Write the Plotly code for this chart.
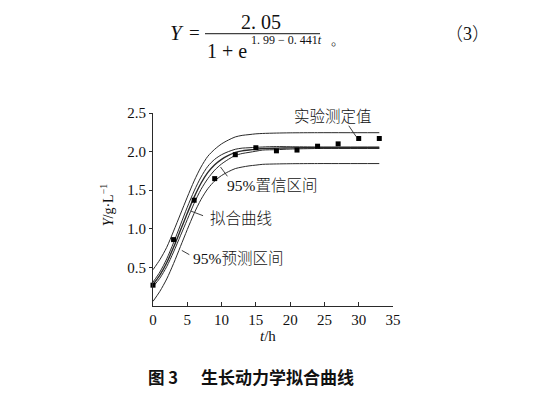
import plotly.graph_objects as go

# ---- data ----
t_curve = [0, 1, 2, 3, 4, 5, 6, 7, 8, 9, 10, 11, 12, 13, 14, 15, 16, 18, 20, 24, 28, 33]
fit_curve = [0.28, 0.40, 0.56, 0.76, 0.98, 1.20, 1.41, 1.59, 1.73, 1.83, 1.90, 1.95, 1.99,
             2.01, 2.02, 2.03, 2.04, 2.045, 2.048, 2.05, 2.05, 2.05]
conf_upper = [0.31, 0.44, 0.61, 0.82, 1.05, 1.28, 1.49, 1.67, 1.81, 1.90, 1.96, 2.00, 2.03,
              2.045, 2.05, 2.055, 2.06, 2.065, 2.063, 2.06, 2.06, 2.06]
conf_lower = [0.25, 0.36, 0.51, 0.70, 0.91, 1.12, 1.33, 1.51, 1.65, 1.76, 1.84, 1.90, 1.95,
              1.975, 1.99, 2.005, 2.02, 2.025, 2.033, 2.04, 2.04, 2.04]
pred_upper = [0.47, 0.60, 0.76, 0.97, 1.19, 1.41, 1.62, 1.80, 1.94, 2.03, 2.10, 2.15, 2.19,
              2.21, 2.22, 2.23, 2.235, 2.24, 2.243, 2.245, 2.245, 2.245]
pred_lower = [0.06, 0.19, 0.35, 0.55, 0.77, 0.99, 1.20, 1.38, 1.52, 1.62, 1.69, 1.74, 1.78,
              1.80, 1.815, 1.825, 1.835, 1.84, 1.843, 1.845, 1.845, 1.845]

t_obs = [0, 3, 6, 9, 12, 15, 18, 21, 24, 27, 30, 33]
y_obs = [0.27, 0.86, 1.37, 1.65, 1.96, 2.05, 2.01, 2.02, 2.07, 2.10, 2.17, 2.17]

x_ticks = [0, 5, 10, 15, 20, 25, 30, 35]
y_ticks = [0.5, 1.0, 1.5, 2.0, 2.5]
y_ticktext = ["0.5", "1.0", "1.5", "2.0", "2.5"]

# ---- figure ----
W, H = 536, 396
L, R, T, B = 153, 393, 112.5, 306
FONT = "Liberation Serif, Times New Roman, Noto Sans CJK SC, serif"
CJK = "Liberation Serif, Noto Sans CJK SC, serif"
LINE = "#2a2a2a"

def px(x):
    return (x - L) / (R - L)

def py(y):
    return (B - y) / (B - T)

fig = go.Figure()
for ys, w in [(pred_upper, 1.0), (conf_upper, 1.0), (fit_curve, 1.4), (conf_lower, 1.0), (pred_lower, 1.0)]:
    fig.add_trace(go.Scatter(x=t_curve, y=ys, mode="lines",
                             line=dict(color=LINE, width=w, shape="spline", smoothing=0.8),
                             showlegend=False, hoverinfo="skip", cliponaxis=False))
fig.add_trace(go.Scatter(x=t_obs, y=y_obs, mode="markers",
                         marker=dict(symbol="square", size=5, color="#000"),
                         showlegend=False, cliponaxis=False))

annotations = []
shapes = []

def ann(text, x, y, size, xanchor="center", yanchor="middle", xref="paper", yref="paper",
        family=FONT, weight=None):
    f = dict(family=family, size=size, color="#111")
    if weight is not None:
        f["weight"] = weight
    annotations.append(dict(text=text, x=x, y=y, xref=xref, yref=yref, showarrow=False,
                            xanchor=xanchor, yanchor=yanchor, font=f))

# in-plot labels (data coordinates)
ann("实验测定值", 20.2, 2.455, 15.5, xanchor="left", xref="x", yref="y", family=CJK, weight=300)
ann("95%置信区间", 10.5, 1.561, 15.5, xanchor="left", xref="x", yref="y", family=CJK, weight=300)
ann("拟合曲线", 8.0, 1.132, 15.5, xanchor="left", xref="x", yref="y", family=CJK, weight=300)
ann("95%预测区间", 5.5, 0.619, 15.5, xanchor="left", xref="x", yref="y", family=CJK, weight=300)

# leader lines
for (x0, y0, x1, y1) in [(28.55, 2.335, 29.63, 2.194),
                         (9.85, 1.80, 10.85, 1.68),
                         (5.5, 1.23, 7.3, 1.17),
                         (4.2, 0.72, 5.3, 0.665)]:
    shapes.append(dict(type="line", xref="x", yref="y", x0=x0, y0=y0, x1=x1, y1=y1,
                       line=dict(color=LINE, width=0.9)))

# axis titles
ann("<i>Y</i>/g·L<sup>−1</sup>", px(107), py(205), 14, xanchor="center")
annotations[-1]["textangle"] = -90
ann("<i>t</i>/h", px(268), py(336), 15)

# equation above the chart
ann("<i>Y</i>", px(177), py(32), 21)
ann("=", px(194), py(32), 19)
ann("2. 05", px(261), py(21), 20)
shapes.append(dict(type="line", xref="paper", yref="paper", x0=px(205), x1=px(320),
                   y0=py(33.0), y1=py(33.0), line=dict(color="#111", width=1)))
ann("1 + e", px(205), py(50), 20, xanchor="left")
ann("1. 99 − 0. 441<i>t</i>", px(249), py(39), 12, xanchor="left")
ann("。", px(329), py(40), 13, xanchor="left", family=CJK, weight=300)
ann("（3）", px(467), py(33), 18, family=CJK, weight=300)

# caption
ann("<b>图 3</b>", px(163), py(377), 16.5, family="Noto Sans CJK SC, Liberation Serif")
ann("<b>生长动力学拟合曲线</b>", px(277), py(377), 17, family="Noto Sans CJK SC")

fig.update_layout(
    width=W, height=H,
    margin=dict(l=L, r=W - R, t=T, b=H - B, pad=0),
    paper_bgcolor="white", plot_bgcolor="white",
    font=dict(family=FONT, size=15, color="#111"),
    annotations=annotations, shapes=shapes,
    xaxis=dict(range=[0, 35], tickvals=x_ticks, ticks="inside", ticklen=4, tickwidth=1,
               tickcolor=LINE, showline=True, linecolor=LINE, linewidth=1,
               showgrid=False, zeroline=False, tickfont=dict(size=15), fixedrange=True),
    yaxis=dict(range=[0, 2.5], tickvals=y_ticks, ticktext=y_ticktext, ticks="outside",
               ticklen=3, tickwidth=1, tickcolor=LINE, showline=True, linecolor=LINE,
               linewidth=1, showgrid=False, zeroline=False, tickfont=dict(size=15),
               fixedrange=True),
)

fig.write_html("out.html", config={"displayModeBar": False},
               post_script="document.body.style.margin='0';document.body.style.padding='0';")
